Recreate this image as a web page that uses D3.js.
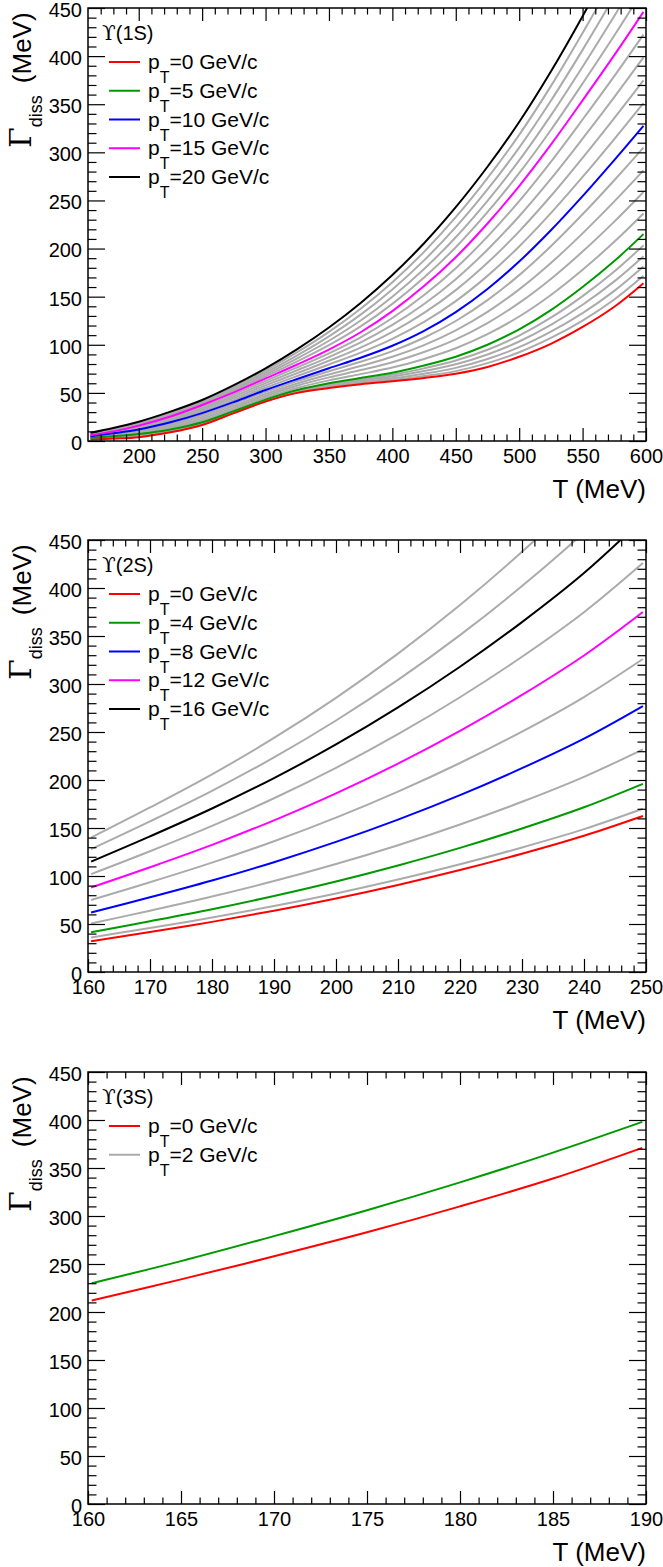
<!DOCTYPE html>
<html><head><meta charset="utf-8">
<script src="https://cdn.jsdelivr.net/npm/d3@7"></script>
<style>body{margin:0;background:#fff}</style>
</head><body>
<svg id="c" width="663" height="1567"></svg>
<script>
// ---------------- DATA ----------------
// Upsilon(1S): temperature samples (MeV) and Gamma_diss (MeV) for pT = 0..20 GeV/c
const T_1S = [162, 180, 200, 225, 250, 275, 300, 325, 350, 375, 400, 425, 450, 475, 500, 525, 550, 575, 598];
const G1S_pT0  = [1.5, 2.5, 4, 9, 16.6, 29, 41, 50, 55, 59, 62, 65.5, 70, 77, 87.5, 101, 118.5, 139.5, 164];
const G1S_pT1  = [1.8, 2.9, 4.5, 9.5, 17.0, 29.3, 41.3, 50.5, 55.8, 60.0, 63.4, 67.5, 72.6, 80.9, 92.2, 107.1, 125.2, 147.1, 171.7];
const G1S_pT2  = [2.2, 3.4, 5.1, 10.0, 17.6, 29.7, 41.7, 51.0, 56.7, 61.2, 65.1, 69.9, 76.0, 85.2, 97.5, 113.6, 132.9, 156.0, 181.3];
const G1S_pT3  = [2.6, 3.9, 5.8, 10.7, 18.2, 30.1, 42.1, 51.7, 57.8, 62.6, 67.0, 72.7, 79.7, 89.9, 103.4, 120.7, 141.6, 165.9, 192.1];
const G1S_pT4  = [3.0, 4.4, 6.5, 11.3, 18.8, 30.5, 42.5, 52.3, 58.9, 64.0, 68.9, 75.5, 83.6, 94.8, 109.6, 128.2, 150.6, 176.2, 203.3];
const G1S_pT5  = [3.5, 5, 7.3, 12, 19.5, 31, 43, 53, 60, 65.5, 71, 78.5, 87.6, 100, 116, 136, 160, 187, 215];
const G1S_pT6  = [3.8, 5.6, 8.2, 13.4, 21.3, 32.8, 44.9, 55.2, 63.0, 69.5, 76.3, 85.3, 96.4, 111.0, 129.4, 151.8, 178.0, 207.0, 236.4];
const G1S_pT7  = [4.1, 6.2, 9.1, 14.9, 23.2, 34.7, 46.9, 57.5, 66.1, 73.7, 81.9, 92.5, 105.7, 122.6, 143.5, 168.4, 196.9, 228.0, 258.8];
const G1S_pT8  = [4.4, 6.8, 10.1, 16.4, 25.1, 36.6, 48.9, 59.8, 69.2, 77.9, 87.5, 99.7, 115.0, 134.2, 157.6, 185.0, 215.8, 249.0, 281.3];
const G1S_pT9  = [4.7, 7.4, 11.1, 18.0, 27.1, 38.6, 51.0, 62.2, 72.5, 82.3, 93.4, 107.3, 124.7, 146.4, 172.4, 202.4, 235.6, 271.0, 304.9];
const G1S_pT10 = [5, 8, 12, 19.5, 29, 40.5, 53, 64.5, 75.6, 86.5, 99, 114.5, 134, 158, 186.5, 219, 254.5, 292, 327.4];
const G1S_pT11 = [5.2, 8.4, 12.8, 20.7, 30.7, 42.5, 55.4, 67.5, 79.5, 91.8, 106.2, 123.8, 145.4, 171.6, 202.2, 236.8, 274.4, 313.8, 351.1];
const G1S_pT12 = [5.4, 8.8, 13.6, 21.9, 32.4, 44.5, 57.8, 70.5, 83.4, 97.1, 113.4, 133.1, 156.8, 185.2, 217.9, 254.6, 294.3, 335.6, 374.8];
const G1S_pT13 = [5.6, 9.2, 14.4, 23.1, 34.0, 46.5, 60.2, 73.5, 87.2, 102.4, 120.6, 142.4, 168.2, 198.8, 233.6, 272.4, 314.2, 357.4, 398.6];
const G1S_pT14 = [5.8, 9.6, 15.2, 24.3, 35.7, 48.5, 62.6, 76.5, 91.1, 107.7, 127.8, 151.7, 179.6, 212.4, 249.3, 290.2, 334.1, 379.2, 422.3];
const G1S_pT15 = [6, 10, 16, 25.5, 37.4, 50.5, 65, 79.5, 95, 113, 135, 161, 191, 226, 265, 308, 354, 401, 446];
const G1S_pT16 = [6.5, 10.7, 16.8, 26.5, 38.4, 52.0, 67.1, 82.7, 99.6, 119.1, 142.5, 169.9, 201.4, 237.8, 278.3, 323.2, 371.5, 421.4, 469.1];
const G1S_pT17 = [7.0, 11.4, 17.6, 27.5, 39.5, 53.5, 69.2, 85.9, 104.2, 125.2, 150.0, 178.8, 211.8, 249.6, 291.6, 338.4, 389.0, 441.7, 492.2];
const G1S_pT18 = [7.5, 12.1, 18.4, 28.5, 40.5, 55.0, 71.3, 89.1, 108.8, 131.3, 157.5, 187.7, 222.2, 261.4, 304.9, 353.6, 406.5, 462.1, 515.3];
const G1S_pT19 = [8.0, 12.8, 19.2, 29.5, 41.6, 56.5, 73.4, 92.3, 113.4, 137.4, 165.0, 196.6, 232.6, 273.2, 318.2, 368.8, 424.0, 482.4, 538.4];
const G1S_pT20 = [8.5, 13.5, 20, 30.5, 42.6, 58, 75.5, 95.5, 118, 143.5, 172.5, 205.5, 243, 285, 331.5, 384, 441.5, 502.8, 561.5];

// Upsilon(2S): pT = 0,2,...,20 GeV/c
const T_2S = [160.5, 170, 180, 190, 200, 210, 220, 230, 240, 249.5];
const G2S_pT0  = [32, 41.6, 52.2, 63.8, 76.6, 90.7, 106.2, 123.2, 141.9, 162.5];
const G2S_pT2  = [36, 45.9, 56.7, 68.7, 81.8, 96.3, 112.2, 129.7, 148.8, 170];
const G2S_pT4  = [41.5, 52.9, 65.4, 79.2, 94.3, 111.0, 129.3, 149.5, 171.6, 196];
const G2S_pT6  = [50.5, 63.9, 78.6, 94.7, 112.5, 132.1, 153.7, 177.3, 203.3, 232];
const G2S_pT8  = [62, 77.8, 95.3, 114.4, 135.5, 158.7, 184.2, 212.3, 243.1, 277];
const G2S_pT10 = [75, 93.5, 113.9, 136.2, 160.8, 187.9, 217.7, 250.4, 286.4, 326];
const G2S_pT12 = [88, 109.1, 132.4, 158.0, 186.1, 217.1, 251.2, 288.6, 329.7, 375];
const G2S_pT14 = [102, 125.8, 152.2, 181.0, 212.7, 247.7, 286.2, 328.4, 374.8, 426];
const G2S_pT16 = [115, 141.3, 170.3, 202.0, 237.0, 275.6, 318.0, 364.5, 415.6, 472];
const G2S_pT18 = [128, 156.9, 188.7, 223.5, 262.0, 304.3, 350.9, 402.0, 458.1, 520];
const G2S_pT20 = [140, 171.4, 205.9, 243.8, 285.6, 331.6, 382.2, 437.7, 498.7, 566];

// Upsilon(3S): pT = 0, 2 GeV/c
const T_3S = [160.2, 165, 170, 175, 180, 185, 189.8];
const G3S_pT0 = [212, 234, 258, 283, 310, 339, 371];
const G3S_pT2 = [230, 253, 279, 306, 335, 366, 398];

// Axis ticks
const yMajorTicks = [0, 50, 100, 150, 200, 250, 300, 350, 400, 450];
const xMajor1S = [200, 250, 300, 350, 400, 450, 500, 550, 600];
const xMajor2S = [160, 170, 180, 190, 200, 210, 220, 230, 240, 250];
const xMajor3S = [160, 165, 170, 175, 180, 185, 190];

// Legend labels
const states = ["(1S)", "(2S)", "(3S)"];
const legend1S = [0, 5, 10, 15, 20];
const legend2S = [0, 4, 8, 12, 16];
const legend3S = [0, 2];

// ---------------- STYLE ----------------
const SANS = "'Liberation Sans', Arial, Helvetica, sans-serif";
const SERIF = "'DejaVu Serif', 'Liberation Serif', serif";
const GRAY = "#ababab";
const RED = "#ff0000", GREEN = "#009a00", BLUE = "#0000ff", MAG = "#ff00ff", BLK = "#000000";
const X0 = 88, X1 = 646;

const panels = [
  { top: 8, bottom: 441, xdom: [160, 600], xMaj: xMajor1S, xMinStep: 10, T: T_1S, state: states[0],
    series: [G1S_pT0,G1S_pT1,G1S_pT2,G1S_pT3,G1S_pT4,G1S_pT5,G1S_pT6,G1S_pT7,G1S_pT8,G1S_pT9,G1S_pT10,
             G1S_pT11,G1S_pT12,G1S_pT13,G1S_pT14,G1S_pT15,G1S_pT16,G1S_pT17,G1S_pT18,G1S_pT19,G1S_pT20],
    pts: d3.range(0, 21, 1),
    colorOf: p => ({0: RED, 5: GREEN, 10: BLUE, 15: MAG, 20: BLK})[p] || null,
    legend: legend1S, legendColors: [RED, GREEN, BLUE, MAG, BLK] },
  { top: 540, bottom: 972, xdom: [160, 250], xMaj: xMajor2S, xMinStep: 2, T: T_2S, state: states[1],
    series: [G2S_pT0,G2S_pT2,G2S_pT4,G2S_pT6,G2S_pT8,G2S_pT10,G2S_pT12,G2S_pT14,G2S_pT16,G2S_pT18,G2S_pT20],
    pts: d3.range(0, 21, 2),
    colorOf: p => ({0: RED, 4: GREEN, 8: BLUE, 12: MAG, 16: BLK})[p] || null,
    legend: legend2S, legendColors: [RED, GREEN, BLUE, MAG, BLK] },
  { top: 1072, bottom: 1504, xdom: [160, 190], xMaj: xMajor3S, xMinStep: 1, T: T_3S, state: states[2],
    series: [G3S_pT0, G3S_pT2],
    pts: [0, 2],
    colorOf: p => ({0: RED, 2: GREEN})[p] || null,
    legend: legend3S, legendColors: [RED, GRAY] }
];

const svg = d3.select("#c");
svg.append("rect").attr("width", 663).attr("height", 1567).attr("fill", "#fff");

panels.forEach((P, pi) => {
  const x = d3.scaleLinear().domain(P.xdom).range([X0, X1]);
  const y = d3.scaleLinear().domain([0, 450]).range([P.bottom, P.top]);
  const g = svg.append("g");

  const cid = "clip" + pi;
  svg.append("clipPath").attr("id", cid).append("rect")
    .attr("x", X0).attr("y", P.top).attr("width", X1 - X0).attr("height", P.bottom - P.top);

  // curves: gray first, colored on top
  const line = d3.line().x(d => x(d[0])).y(d => y(d[1])).curve(d3.curveCatmullRom.alpha(0.5));
  const curves = g.append("g").attr("clip-path", `url(#${cid})`);
  const items = P.series.map((s, i) => ({ pT: P.pts[i], data: P.T.map((t, j) => [t, s[j]]), color: P.colorOf(P.pts[i]) }));
  items.filter(d => !d.color).forEach(d => {
    curves.append("path").attr("d", line(d.data)).attr("fill", "none").attr("stroke", GRAY).attr("stroke-width", 2);
  });
  items.filter(d => d.color).forEach(d => {
    curves.append("path").attr("d", line(d.data)).attr("fill", "none").attr("stroke", d.color).attr("stroke-width", 2);
  });

  // axes (ticks inside the frame on all sides)
  const xMin = d3.range(P.xdom[0], P.xdom[1] + 1e-9, P.xMinStep).filter(v => !P.xMaj.some(m => Math.abs(m - v) < 1e-9) && v > P.xdom[0] && v < P.xdom[1]);
  const yMin = d3.range(10, 450, 10).filter(v => v % 50 !== 0);

  const style = sel => {
    sel.select(".domain").remove();
    sel.selectAll("line").attr("stroke", "#000").attr("stroke-width", 1.2);
    sel.selectAll("text").attr("font-family", SANS).attr("font-size", 20).attr("fill", "#000");
  };
  g.append("g").attr("transform", `translate(0,${P.bottom})`)
    .call(d3.axisBottom(x).tickValues(P.xMaj).tickSize(-13).tickPadding(8).tickFormat(d3.format("d"))).call(style);
  g.append("g").attr("transform", `translate(0,${P.bottom})`)
    .call(d3.axisBottom(x).tickValues(xMin).tickSize(-6.5).tickFormat("")).call(style);
  g.append("g").attr("transform", `translate(0,${P.top})`)
    .call(d3.axisTop(x).tickValues(P.xMaj).tickSize(-13).tickFormat("")).call(style);
  g.append("g").attr("transform", `translate(0,${P.top})`)
    .call(d3.axisTop(x).tickValues(xMin).tickSize(-6.5).tickFormat("")).call(style);
  g.append("g").attr("transform", `translate(${X0},0)`)
    .call(d3.axisLeft(y).tickValues(yMajorTicks).tickSize(-17).tickPadding(6).tickFormat(d3.format("d"))).call(style)
    .selectAll("text").attr("dy", "0.42em");
  g.append("g").attr("transform", `translate(${X0},0)`)
    .call(d3.axisLeft(y).tickValues(yMin).tickSize(-8.5).tickFormat("")).call(style);
  g.append("g").attr("transform", `translate(${X1},0)`)
    .call(d3.axisRight(y).tickValues(yMajorTicks).tickSize(-17).tickFormat("")).call(style);
  g.append("g").attr("transform", `translate(${X1},0)`)
    .call(d3.axisRight(y).tickValues(yMin).tickSize(-8.5).tickFormat("")).call(style);

  // frame
  g.append("rect").attr("x", X0).attr("y", P.top).attr("width", X1 - X0).attr("height", P.bottom - P.top)
    .attr("fill", "none").attr("stroke", "#000").attr("stroke-width", 1.5);

  // x title
  g.append("text").attr("x", X1).attr("y", P.bottom + 57).attr("text-anchor", "end")
    .attr("font-family", SANS).attr("font-size", 26).text("T (MeV)");

  // y title
  const yt = g.append("text").attr("transform", `translate(31,${P.top + 140}) rotate(-90)`)
    .attr("font-family", SANS).attr("fill", "#000");
  yt.append("tspan").attr("font-family", SERIF).attr("font-size", 30).text("Γ");
  yt.append("tspan").attr("font-size", 18).attr("dy", 11).text("diss");
  yt.append("tspan").attr("font-size", 26).attr("dy", -11).attr("dx", 12).text("(MeV)");

  // legend
  const hd = g.append("text").attr("x", 102).attr("y", P.top + 31.5).attr("font-family", SANS).attr("font-size", 20);
  hd.append("tspan").attr("font-family", SERIF).text("ϒ");
  hd.append("tspan").text(P.state);
  P.legend.forEach((p, i) => {
    const ly = P.top + 54 + i * 28.75;
    g.append("line").attr("x1", 109).attr("x2", 140).attr("y1", ly).attr("y2", ly)
      .attr("stroke", P.legendColors[i]).attr("stroke-width", 2);
    const t = g.append("text").attr("x", 148).attr("y", ly + 7).attr("font-family", SANS).attr("font-size", 21);
    t.append("tspan").text("p");
    t.append("tspan").attr("font-size", 16).attr("dy", 14).text("T");
    t.append("tspan").attr("dy", -14).text("=" + p + " GeV/c");
  });
});
</script>
</body></html>
